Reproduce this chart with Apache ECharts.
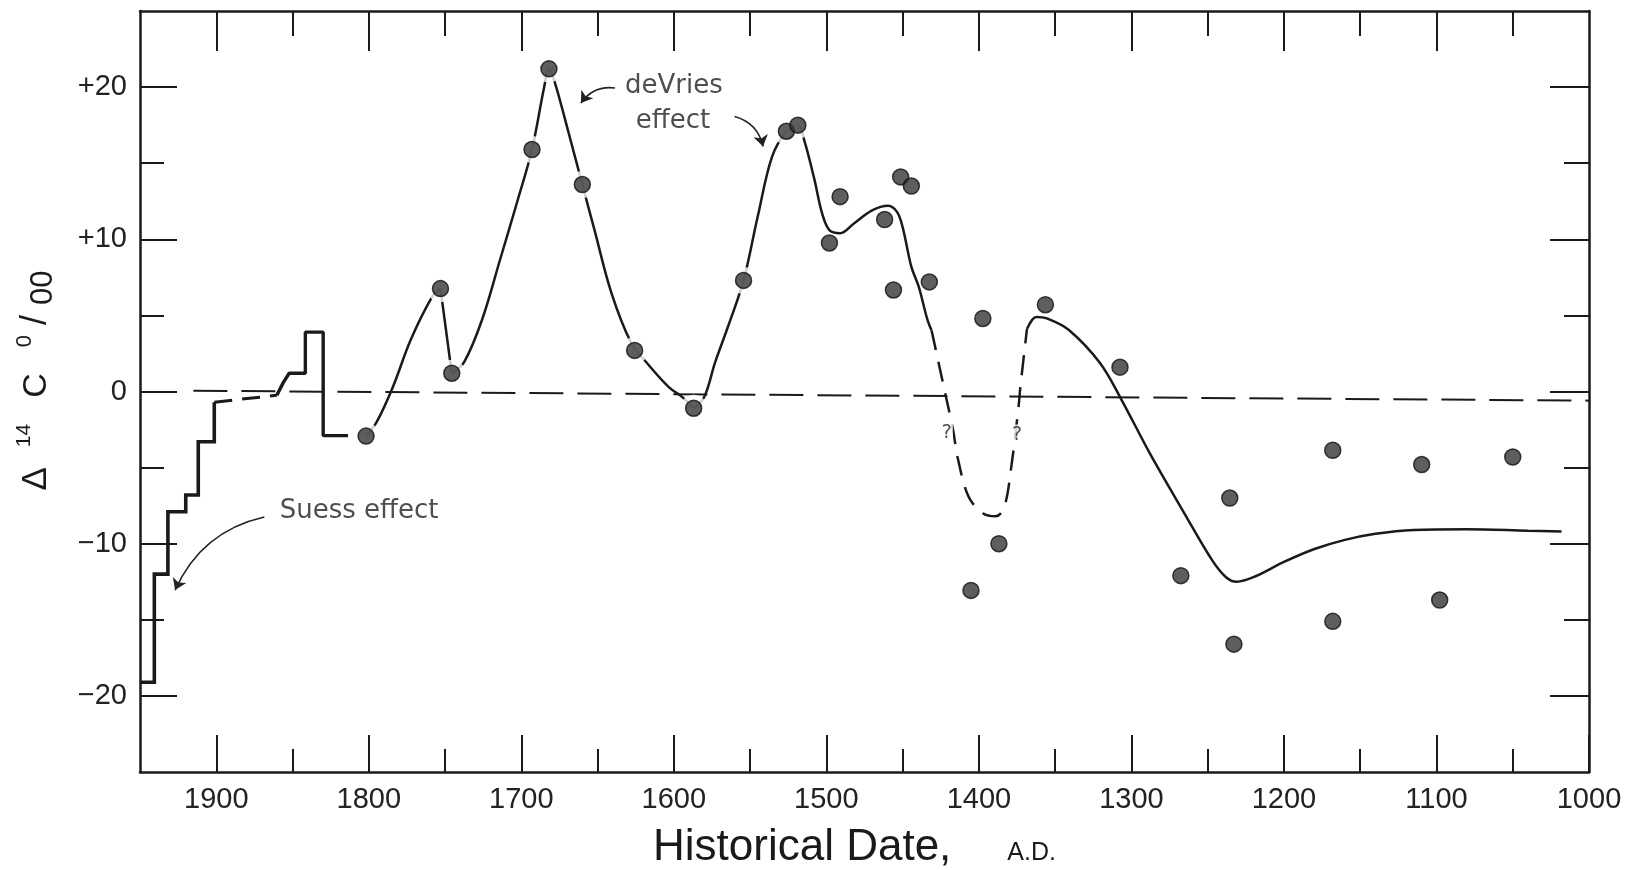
<!DOCTYPE html>
<html>
<head>
<meta charset="utf-8">
<script src="https://cdn.jsdelivr.net/npm/echarts@6/dist/echarts.min.js"></script>
<style>
html,body{margin:0;padding:0;background:#ffffff;}
#chart{width:1625px;height:870px;}
</style>
</head>
<body>
<div id="chart"></div>
<script>
// ---------------- DATA ----------------
const xMajorTicks = [1000, 1100, 1200, 1300, 1400, 1500, 1600, 1700, 1800, 1900];
const xMinorTicks = [1050, 1150, 1250, 1350, 1450, 1550, 1650, 1750, 1850];
const yMajorTicks = [-20, -10, 0, 10, 20];
const yMinorTicks = [-15, -5, 5, 15];
const yTickLabels = ['\u221220', '\u221210', '0', '+10', '+20'];

// Suess effect step curve (year, Δ14C ‰)
const suessSolidA = [[1950, -19.1], [1940.6, -19.1], [1940.6, -12.0], [1931.7, -12.0], [1931.7, -7.9],
  [1920, -7.9], [1920, -6.8], [1911.8, -6.8], [1911.8, -3.3], [1901.3, -3.3], [1901.3, -0.7]];
const suessDashed = [[1901.3, -0.7], [1860.3, -0.25]];
const suessSolidB = [[1860.3, -0.25], [1856, 0.6], [1852.2, 1.2], [1841.6, 1.2], [1841.6, 3.9],
  [1829.9, 3.9], [1829.9, -2.9], [1813.6, -2.9]];

// Zero reference (dashed)
const zeroLine = [[1915, 0.05], [1000, -0.6]];

// Fitted curve segments
const fitA = [[1801.8, -2.93], [1794.8, -2.0], [1784.2, 0.3], [1772.5, 3.4], [1758.6, 6.2], [1753, 6.76]];
const fitB = [[1753, 6.76], [1745.6, 1.2]];
const fitC = [[1745.6, 1.2], [1737.4, 1.95], [1725.8, 4.7], [1714, 8.64], [1702.3, 12.6], [1693, 15.9],
  [1685, 20.0], [1681.9, 21.2], [1678, 20.3], [1669, 17.0], [1660, 13.6], [1652, 10.6], [1641, 6.5],
  [1628, 3.2], [1617.6, 1.87], [1603.5, 0.31], [1594, -0.4], [1587, -1.1]];
const fitD = [[1587, -1.1], [1580, -0.35], [1573, 1.9], [1564, 4.4], [1554.3, 7.3], [1545, 11.5],
  [1535.7, 15.4], [1526.2, 17.1], [1518.7, 17.5], [1514.5, 16.5], [1508, 14.0], [1502.8, 11.7],
  [1498, 10.6], [1491, 10.4], [1481.7, 11.06], [1470, 11.9], [1459.6, 12.2], [1453.7, 11.8],
  [1450, 10.8], [1444.3, 8.2], [1439.5, 6.9], [1433.7, 4.7], [1431, 4.0]];
const fitDashed = [[1431, 4.0], [1423, 0.3], [1417, -2.5], [1413.8, -4.4], [1406.8, -6.9], [1397.4, -8.0],
  [1389, -8.2], [1383.4, -7.6], [1378.7, -4.9], [1374, -1.0], [1372.8, 0.3], [1368.5, 4.1]];
const fitE = [[1368.5, 4.1], [1362.3, 4.9], [1355.4, 4.8], [1341, 4.04], [1320.6, 1.87], [1306.4, -0.56],
  [1288, -4.05], [1265.3, -8.0], [1247, -11.1], [1238, -12.2], [1231, -12.5], [1220, -12.2],
  [1200, -11.2], [1180, -10.35], [1160, -9.75], [1140, -9.35], [1115, -9.1], [1080, -9.05],
  [1040, -9.15], [1018, -9.2]];

// Measured points
const dotsOnCurve = [[1801.8, -2.93], [1753, 6.76], [1745.6, 1.2], [1693, 15.9], [1681.9, 21.2],
  [1660, 13.6], [1625.7, 2.7], [1587, -1.1], [1554.3, 7.3], [1526.2, 17.1], [1518.7, 17.5]];
const dotsOffCurve = [[1498, 9.76], [1491, 12.8], [1461.8, 11.3], [1451.3, 14.1], [1444.3, 13.5],
  [1456, 6.67], [1432.5, 7.2], [1397.4, 4.8], [1405.2, -13.07], [1386.9, -10.0], [1356.4, 5.7],
  [1307.5, 1.6], [1267.6, -12.1], [1235.5, -7.0], [1232.8, -16.6], [1168, -3.86], [1168, -15.1],
  [1109.7, -4.8], [1097.9, -13.7], [1050, -4.3]];

// Annotations
const annotationTexts = ['Suess effect', 'deVries', 'effect'];
const annotationPos = [[1806.4, -7.85], [1600, 20.05], [1600.6, 17.74]];
const questionPos = [[1421, -2.7], [1375, -2.86]];
const suessArrow = [[1868.5, -8.24], [1927, -13.05]];
const deVriesArrow1 = [[1638.6, 19.94], [1660.9, 18.95]];
const deVriesArrow2 = [[1560.2, 18.07], [1541.5, 16.1]];

// ---------------- CHART ----------------
const INK = '#1a1a1a';
const chart = echarts.init(document.getElementById('chart'), null, {renderer: 'canvas'});

function xAxisDef(position, ticks, len, showLine, withLabels) {
  const ax = {
    type: 'value', position: position, min: 1000, max: 1950, inverse: true,
    axisLine: {show: showLine, onZero: false, lineStyle: {color: INK, width: 2.5}},
    axisTick: {show: true, inside: true, length: len, customValues: ticks, lineStyle: {color: INK, width: 2}},
    axisLabel: {show: !!withLabels},
    splitLine: {show: false}
  };
  if (withLabels) {
    ax.axisLabel = {show: true, customValues: ticks, margin: 13, color: '#222',
      fontFamily: 'Liberation Sans', fontSize: 29, formatter: function (v) { return String(v); }};
    ax.name = '{a|Historical Date,}{b|A.D.}';
    ax.nameLocation = 'middle';
    ax.nameGap = 54;
    ax.nameTextStyle = {rich: {
      a: {fontSize: 44, fontFamily: 'Liberation Sans', color: '#1a1a1a'},
      b: {fontSize: 25, fontFamily: 'Liberation Sans', color: '#1a1a1a', verticalAlign: 'bottom', padding: [0, 20, 4, 56]}
    }};
  }
  return ax;
}
function yAxisDef(position, ticks, len, showLine, withLabels) {
  const ax = {
    type: 'value', position: position, min: -25, max: 25,
    axisLine: {show: showLine, onZero: false, lineStyle: {color: INK, width: 2.5}},
    axisTick: {show: true, inside: true, length: len, customValues: ticks, lineStyle: {color: INK, width: 2}},
    axisLabel: {show: false},
    splitLine: {show: false}
  };
  if (withLabels) {
    ax.axisLabel = {show: true, customValues: ticks, margin: 13, color: '#222',
      fontFamily: 'Liberation Sans', fontSize: 29,
      formatter: function (v) { const i = yMajorTicks.indexOf(v); return i >= 0 ? yTickLabels[i] : ''; }};
    ax.name = '{d|\u0394}{s1|14}{c|C}{s2|0}{sl|/}{sub|00}';
    ax.nameLocation = 'middle';
    ax.nameRotate = 90;
    ax.nameGap = 81;
    ax.nameTextStyle = {rich: {
      d: {fontSize: 35, fontFamily: 'Liberation Sans', color: '#1a1a1a', padding: [0, 20, 0, 22]},
      s1: {fontSize: 21, fontFamily: 'Liberation Sans', color: '#1a1a1a', verticalAlign: 'top', padding: [0, 26, 0, 0]},
      c: {fontSize: 34, fontFamily: 'Liberation Sans', color: '#1a1a1a', lineHeight: 45, padding: [0, 26, 0, 0]},
      s2: {fontSize: 22, fontFamily: 'Liberation Sans', color: '#1a1a1a', verticalAlign: 'top'},
      sl: {fontSize: 36, fontFamily: 'Liberation Sans', color: '#1a1a1a', padding: [0, 10, 0, 10]},
      sub: {fontSize: 31, fontFamily: 'Liberation Sans', color: '#1a1a1a', verticalAlign: 'bottom'}
    }};
  }
  return ax;
}

function line(data, opts) {
  return Object.assign({
    type: 'line', data: data, xAxisIndex: 0, yAxisIndex: 0, symbol: 'none', showSymbol: false,
    silent: true, z: 2, lineStyle: {color: INK, width: 2.5}
  }, opts);
}

const option = {
  animation: false,
  backgroundColor: '#ffffff',
  grid: {left: 140, top: 11, width: 1449, height: 761, containLabel: false, outerBoundsMode: 'none'},
  xAxis: [
    xAxisDef('bottom', xMajorTicks, 37, true, true),
    xAxisDef('bottom', xMinorTicks, 23, false, false),
    xAxisDef('top', xMajorTicks.filter(v => v !== 1000), 40, true, false),
    xAxisDef('top', xMinorTicks, 25, false, false)
  ],
  yAxis: [
    yAxisDef('left', yMajorTicks, 37, true, true),
    yAxisDef('left', yMinorTicks, 24, false, false),
    yAxisDef('right', yMajorTicks, 39, true, false),
    yAxisDef('right', yMinorTicks, 25, false, false)
  ],
  series: [
    line(zeroLine, {lineStyle: {color: INK, width: 2, type: [34, 14]}}),
    line(suessSolidA, {lineStyle: {color: INK, width: 3.6, join: 'miter'}}),
    line(suessDashed, {lineStyle: {color: INK, width: 3, type: [18, 10]}}),
    line(suessSolidB, {smooth: false, lineStyle: {color: INK, width: 3.4}}),
    line(fitA, {smooth: 0.35}),
    line(fitB, {}),
    line(fitC, {smooth: 0.35}),
    line(fitD, {smooth: 0.35}),
    line(fitDashed, {smooth: 0.35, lineStyle: {color: INK, width: 2.5, type: [20, 12]}}),
    line(fitE, {smooth: 0.35}),
    {
      type: 'scatter', data: dotsOnCurve, symbol: 'circle', symbolSize: 27, silent: true, z: 3,
      itemStyle: {color: '#ffffff'}
    },
    {
      type: 'scatter', data: dotsOnCurve.concat(dotsOffCurve), symbol: 'circle', symbolSize: 16, silent: true, z: 4,
      itemStyle: {color: '#363636', borderColor: '#111', borderWidth: 1.5}
    },
    {
      type: 'scatter', silent: true, z: 5, symbolSize: 1, itemStyle: {color: 'rgba(0,0,0,0)'},
      data: annotationTexts.map((t, i) => ({name: t, value: annotationPos[i]})),
      label: {show: true, position: 'inside', formatter: '{b}', color: '#222',
        fontFamily: 'DejaVu Sans', fontSize: 26}
    },
    {
      type: 'scatter', silent: true, z: 5, symbolSize: 1, itemStyle: {color: 'rgba(0,0,0,0)'},
      data: questionPos,
      label: {show: true, position: 'inside', formatter: '?', color: '#222',
        fontFamily: 'DejaVu Sans', fontSize: 19, backgroundColor: '#ffffff', padding: [1, 1]}
    },
    {
      type: 'lines', coordinateSystem: 'cartesian2d', xAxisIndex: 0, yAxisIndex: 0, silent: true, z: 5,
      symbol: ['none', 'arrow'], symbolSize: [0, 11],
      lineStyle: {color: '#222', width: 1.6, opacity: 1},
      data: [
        {coords: suessArrow, lineStyle: {curveness: -0.25}},
        {coords: deVriesArrow1, lineStyle: {curveness: -0.3}},
        {coords: deVriesArrow2, lineStyle: {curveness: 0.3}}
      ]
    }
  ]
};
chart.setOption(option);
</script>
</body>
</html>
